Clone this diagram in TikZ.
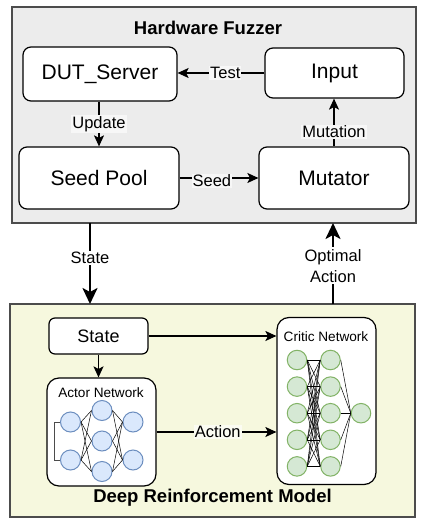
\documentclass[tikz,border=0pt]{standalone}
\usepackage{fontspec}
\setmainfont{Liberation Sans}
\usetikzlibrary{arrows,arrows.meta}

\definecolor{hwgray}{HTML}{ECECEC}
\definecolor{drlyel}{HTML}{F6F8DE}
\definecolor{nbfill}{HTML}{DAE8FC}
\definecolor{nbdraw}{HTML}{6C8EBF}
\definecolor{ngfill}{HTML}{D5E8D4}
\definecolor{ngdraw}{HTML}{82B366}

\begin{document}
\begin{tikzpicture}[x=1pt,y=1pt]
\tikzstyle{hwbox}=[rectangle, draw=black!70, line width=1.2pt, inner sep=0pt]
\tikzstyle{box}=[rectangle, rounded corners=8pt, draw=black, line width=1.2pt, fill=white, inner sep=0pt, font=\fontsize{21}{24}\selectfont]
\tikzstyle{netbox}=[box, rounded corners=12pt]
\tikzstyle{title}=[font=\bfseries\fontsize{18.5}{20}\selectfont]
\tikzstyle{lbl}=[font=\fontsize{16.5}{21}\selectfont, inner sep=1pt]
\tikzstyle{netlbl}=[font=\fontsize{13.6}{15}\selectfont]
\tikzstyle{arr}=[-{Stealth[length=11pt,width=10pt,inset=2.5pt]}, line width=1.2pt]
\tikzstyle{bigarr}=[-{Stealth[length=16pt,width=15pt,inset=4pt]}, line width=2.5pt]
\tikzstyle{neub}=[circle, minimum size=20pt, inner sep=0pt, draw=nbdraw, fill=nbfill, line width=1pt]
\tikzstyle{neug}=[neub, minimum size=19.5pt, draw=ngdraw, fill=ngfill]
\tikzstyle{syn}=[line width=0.5pt]
\useasboundingbox (0,0) rectangle (420,-526);

% hardware fuzzer
\node (hw) [hwbox, fill=hwgray, minimum width=404pt, minimum height=216pt] at (214,-115) {};
\node (hwt) [title] at (208,-28) {Hardware Fuzzer};
\node (dut) [box, minimum width=154pt, minimum height=54pt] at (100,-74) {DUT\_Server};
\node (inp) [box, minimum width=139pt, minimum height=50pt] at (334.5,-73) {Input};
\node (pool) [box, minimum width=160pt, minimum height=62pt] at (99,-178) {Seed Pool};
\node (mut) [box, minimum width=150pt, minimum height=62pt] at (334,-178) {Mutator};
\draw [arr] (inp.west) -- (inp.west -| dut.east) node[lbl, fill=hwgray!40!white, pos=0.45] {Test};
\draw [arr] (dut.south -| pool.north) -- (pool.north) node[lbl, fill=hwgray!40!white, midway] {Update};
\draw [arr] (pool.east) -- (mut.west) node[lbl, fill=hwgray!40!white, pos=0.41, yshift=-3pt] {Seed};
\draw [arr] (mut.north) -- (mut.north |- inp.south) node[lbl, fill=hwgray!40!white, pos=0.3] {Mutation};

% deep reinforcement model
\node (drl) [hwbox, fill=drlyel, minimum width=405pt, minimum height=213pt] at (212.5,-410.5) {};
\node (drlt) [title] at (212.5,-498) {Deep Reinforcement Model};
\node (st) [box, rounded corners=6pt, minimum width=99pt, minimum height=36pt, font=\fontsize{18}{20}\selectfont] at (98.5,-336) {State};
\node (act) [netbox, minimum width=109pt, minimum height=108pt] at (101.5,-432) {};
\node (actt) [netlbl] at (101,-393) {Actor Network};
\node (cri) [netbox, minimum width=99pt, minimum height=167pt] at (326.5,-401) {};
\node (crit) [netlbl] at (326,-337) {Critic Network};
\draw [arr] (st.south) -- (st.south |- act.north);
\draw [arr] (st.east) -- (st.east -| cri.west);
\draw [arr] (act.east) -- (act.east -| cri.west) node[lbl, fill=drlyel!40!white, pos=0.51] {Action};

% between the two
\coordinate (s0) at (90,-223);
\coordinate (s1) at (90,-304);
\coordinate (o0) at (333,-304);
\coordinate (o1) at (333,-223);
\draw [bigarr] (s0) -- (s1) node[lbl, fill=white, pos=0.43] {State};
\draw [bigarr] (o0) -- (o1) node[lbl, fill=white, pos=0.47, align=center, inner sep=2pt] {Optimal\\Action};

% actor neurons
\node (a1) [neub] at (70.5,-422) {};
\node (a2) [neub, node distance=38pt, below of=a1] {};
\node (a3) [neub] at (102,-410.5) {};
\node (a4) [neub, node distance=30.5pt, below of=a3] {};
\node (a5) [neub, node distance=30.5pt, below of=a4] {};
\node (a6) [neub] at (133,-422) {};
\node (a7) [neub, node distance=38pt, below of=a6] {};
\foreach \i in {1,2} \foreach \j in {3,4,5} \draw [syn] (a\i.east) -- (a\j.west);
\foreach \i in {3,4,5} \foreach \j in {6,7} \draw [syn] (a\i.east) -- (a\j.west);
\draw [syn, black!70] (a1.west) -- ++(-6,0) |- (a2.west);

% critic neurons
\node (c1) [neug] at (297,-360) {};
\node (c2) [neug, node distance=26.6pt, below of=c1] {};
\node (c3) [neug, node distance=26.6pt, below of=c2] {};
\node (c4) [neug, node distance=26.6pt, below of=c3] {};
\node (c5) [neug, node distance=26.6pt, below of=c4] {};
\node (c6) [neug, node distance=33.5pt, right of=c1] {};
\node (c7) [neug, node distance=26.6pt, below of=c6] {};
\node (c8) [neug, node distance=26.6pt, below of=c7] {};
\node (c9) [neug, node distance=26.6pt, below of=c8] {};
\node (c10) [neug, node distance=26.6pt, below of=c9] {};
\node (c11) [neug, node distance=30.5pt, right of=c8] {};
\foreach \i in {1,...,5} \foreach \j in {6,...,10} \draw [syn] (c\i.east) -- (c\j.west);
\foreach \j in {6,...,10} \draw [syn] (c\j.east) -- (c11.west);
\end{tikzpicture}
\end{document}
